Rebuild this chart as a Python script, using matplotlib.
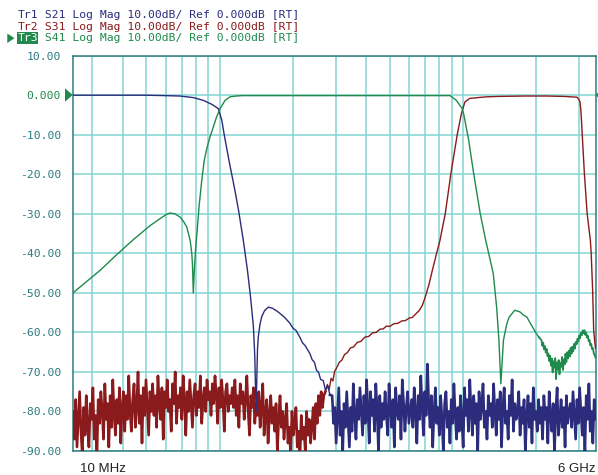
import numpy as np
import matplotlib
matplotlib.use('Agg')
import matplotlib.pyplot as plt
from matplotlib.patches import Polygon
from matplotlib.ticker import NullFormatter

# frequency in MHz, level in dB

# Tr1 S21 (low pass), smooth part
s21_f = [25, 50, 60, 68.8, 78, 85.8, 92.9, 98.9, 102.1, 104.7, 109.6, 114.9, 119.8,
         125, 130, 134, 137.7, 139.5, 141.2, 142.4, 143.2, 144.3, 146.5, 149, 153,
         158.6, 165, 172, 177, 185, 194.6, 200, 206, 213.6, 219, 225, 235.1, 240,
         245, 250.2, 255, 260, 266.7, 272, 278, 284]
s21_db = [0.0, 0.0, -0.1, -0.2, -0.6, -1.3, -2.3, -3.4, -6.3, -10.3, -16.9, -23.2, -29.3,
          -36.5, -44.0, -51.0, -58.5, -66.0, -80.0, -70.0, -64.0, -61.0, -58.0, -56.0, -54.5,
          -53.6, -53.9, -54.6, -55.2, -56.2, -57.7, -58.9, -59.5, -61.2, -62.6, -63.4, -65.4, -66.9,
          -67.5, -69.6, -70.1, -71.9, -72.2, -74.6, -73.5, -75.8]
# Tr1 noise floor, 290 MHz .. 3.5 GHz
s21_noise = [
    -76, -83, -79, -88, -81, -74, -86, -80, -90, -78, -84, -75, -82, -89, -79, -85, -73, -81, -87, -77,
    -82, -74, -80, -86, -76, -83, -72, -79, -88, -75, -81, -77, -85, -73, -80, -90, -76, -84, -78, -82,
    -75, -81, -86, -73, -79, -84, -77, -89, -74, -80, -82, -76, -87, -72, -78, -85, -79, -75, -83, -80,
    -77, -84, -74, -80, -88, -76, -82, -71, -79, -86, -75, -81, -68, -78, -84, -76, -89, -80, -74, -83,
    -79, -86, -76, -82, -90, -78, -75, -84, -80, -88, -77, -83, -73, -81, -87, -79, -85, -76, -82, -89,
    -74, -81, -77, -85, -72, -80, -86, -76, -83, -78, -90, -75, -82, -79, -73, -84, -80, -87, -76, -81,
    -78, -84, -73, -80, -86, -77, -82, -75, -89, -79, -74, -83, -80, -87, -76, -81, -72, -85, -78, -82,
    -80, -75, -86, -79, -83, -77, -90, -81, -76, -84, -78, -88, -74, -82, -80, -85, -77, -83, -79, -87,
    -76, -82, -79, -88, -75, -81, -85, -78, -90, -80, -74, -86, -82, -77, -84, -79, -89, -76, -83, -80,
    -78, -84, -75, -81, -87, -77, -83, -74, -80, -86, -79, -90, -76, -82, -73, -85, -80, -88, -77, -82]

# Tr2 S31 (high pass) noise floor, 25 .. 268 MHz
s31_noise = [
    -80, -87, -77, -89, -82, -75, -85, -91, -79, -86, -76, -84, -89, -78, -82, -74, -87, -81, -92, -77,
    -83, -75, -80, -87, -73, -82, -78, -89, -76, -84, -72, -81, -86, -77, -83, -74, -88, -79, -75, -85,
    -76, -82, -71, -80, -85, -77, -73, -84, -79, -70, -83, -76, -88, -74, -81, -72, -79, -86, -75, -80,
    -73, -81, -76, -84, -71, -78, -82, -74, -87, -75, -79, -72, -80, -77, -85, -73, -78, -70, -83, -76,
    -79, -74, -82, -71, -77, -86, -75, -80, -72, -78, -84, -76, -73, -81, -75, -79, -71, -83, -77, -74,
    -80, -72, -77, -75, -81, -73, -78, -71, -76, -83, -74, -79, -72, -77, -85, -75, -73, -80, -76, -78,
    -74, -79, -72, -81, -76, -84, -73, -78, -75, -82, -77, -71, -80, -86, -76, -79, -74, -83, -78, -81,
    -75, -84, -79, -73, -86, -80, -77, -88, -81, -76, -83, -79, -85, -78, -90, -82, -76, -84, -80, -87,
    -82, -78, -88, -84, -91, -80, -86, -83, -79, -89, -85, -92, -81, -87, -84, -90, -80, -86, -82, -88,
    -84, -79, -87, -78, -83, -76, -81, -75, -79, -76]
# Tr2 smooth part
s31_f = [272, 277, 282, 287, 292, 297, 303, 310, 318, 326, 335, 345, 355, 368, 380, 395,
         410, 425, 440, 455, 470, 485, 500, 520, 540, 560, 580, 600, 620, 640, 660, 680,
         700, 725, 750, 775, 804, 845, 892, 947, 985, 1018, 1066, 1150, 1251, 1400, 1800,
         2200, 2600, 2940, 3000, 3022, 3045, 3065, 3100, 3150, 3235, 3334, 3360, 3407,
         3440, 3470, 3500]
s31_db = [-75.0, -73.2, -74.4, -71.6, -72.3, -69.8, -68.9, -67.6, -67.0, -65.6, -65.1, -63.9,
          -63.7, -62.5, -62.3, -61.2, -61.0, -60.1, -60.0, -59.2, -59.1, -58.4, -58.5, -57.8,
          -57.7, -57.1, -57.0, -56.4, -56.2, -55.3, -54.5, -53.2, -51.0, -47.8, -44.0, -40.5,
          -36.7, -30.0, -19.7, -9.9, -4.6, -1.7, -0.8, -0.6, -0.4, -0.3, -0.2, -0.2, -0.3,
          -0.5, -1.2, -1.7, -3.5, -6.3, -12.0, -19.7, -30.0, -36.7, -40.0, -49.4, -59.5,
          -62.0, -64.0]

# Tr3 S41 (band pass), smooth part
s41_f = [25, 32.3, 38, 44.1, 51.8, 57, 60.7, 62.6, 65.5, 68.8, 71.2, 73.3, 75.7, 76.9,
         77.4, 78.0, 78.8, 79.7, 80.6, 82.4, 84.5, 86.5, 88.6, 91.4, 94.3, 97.2, 100.5,
         105.3, 110.4, 116.9, 124, 885, 939, 990, 1005, 1055, 1105, 1177, 1239, 1330,
         1374, 1404, 1430, 1465, 1513, 1545, 1577, 1630, 1670, 1712, 1770, 1828, 1903,
         2000, 2050]
s41_db = [-50.0, -44.3, -40.2, -36.6, -33.0, -31.2, -30.1, -29.8, -30.0, -30.8, -32.0, -33.3,
          -36.7, -40.0, -43.0, -50.0, -44.0, -39.0, -35.5, -28.0, -21.5, -16.5, -13.5, -10.5,
          -8.0, -5.5, -3.4, -1.3, -0.4, -0.2, -0.1, -0.1, -1.3, -3.3, -4.6, -11.4, -19.7,
          -30.0, -36.7, -45.0, -53.6, -62.0, -73.0, -62.0, -57.8, -56.2, -55.5, -54.4, -54.6,
          -54.8, -55.6, -56.1, -58.0, -60.3, -61.2]
# Tr3 noisy tail, 2.1 .. 3.5 GHz
s41_noise = [
    -62.0, -63.4, -62.6, -64.3, -63.5, -65.1, -64.2, -66.0, -65.3, -67.2, -65.9, -68.4, -66.6,
    -70.1, -67.3, -68.9, -66.5, -71.8, -67.6, -69.4, -67.0, -70.6, -67.8, -68.7, -66.2, -69.5,
    -66.8, -68.1, -65.4, -67.5, -65.0, -66.6, -64.6, -66.1, -63.9, -65.4, -63.6, -64.8, -62.9,
    -64.1, -62.4, -63.0, -61.6, -62.3, -60.8, -61.5, -60.1, -60.7, -59.5, -60.2, -59.4, -60.6,
    -60.0, -61.3, -60.8, -62.2, -61.9, -63.3, -62.9, -64.2, -64.0, -65.3, -65.7, -66.4]

db_ticks = [10, 0, -10, -20, -30, -40, -50, -60, -70, -80, -90]
db_labels = ['10.00', '0.000', '-10.00', '-20.00', '-30.00', '-40.00',
             '-50.00', '-60.00', '-70.00', '-80.00', '-90.00']
freq_labels = ['10 MHz', '6 GHz']

tr_names = ['Tr1', 'Tr2', 'Tr3']
tr_text = [' S21 Log Mag 10.00dB/ Ref 0.000dB [RT]',
           ' S31 Log Mag 10.00dB/ Ref 0.000dB [RT]',
           ' S41 Log Mag 10.00dB/ Ref 0.000dB [RT]']

blue = '#2b2c7c'
red = '#8a1a1c'
green = '#1f8a4c'
gridc = '#84d5d2'
teal = '#2d7b80'

# sweep points of the noisy segments (log sweep)
n21_f = np.geomspace(290, 3500, len(s21_noise))
n31_f = np.geomspace(25, 268, len(s31_noise))
n41_f = np.geomspace(2100, 3500, len(s41_noise))

W, H = 598, 475
fig = plt.figure(figsize=(W / 100, H / 100), dpi=100)
ax = fig.add_axes([73 / W, 24 / H, 522.5 / W, 395.3 / H])
ax.set_xscale('log')
ax.set_xlim(25, 3500)
ax.set_ylim(-90, 10)

# Tr2
ax.plot(np.r_[n31_f, s31_f[0]], np.r_[s31_noise, s31_db[0]], color=red, lw=1.9, zorder=3)
ax.plot(s31_f, s31_db, color=red, lw=1.0, zorder=3)
# Tr1
ax.plot(s21_f, s21_db, color=blue, lw=1.0, zorder=4)
ax.plot(np.r_[s21_f[-1], n21_f], np.r_[s21_db[-1], s21_noise], color=blue, lw=1.9, zorder=4)
# Tr3
ax.plot(s41_f, s41_db, color=green, lw=1.0, zorder=5)
ax.plot(np.r_[s41_f[-1], n41_f], np.r_[s41_db[-1], s41_noise], color=green, lw=1.3, zorder=5)

ax.set_axisbelow(True)
ax.grid(which='both', axis='x', color=gridc, lw=1.1)
ax.grid(which='major', axis='y', color=gridc, lw=1.1)
ax.xaxis.set_major_formatter(NullFormatter())
ax.xaxis.set_minor_formatter(NullFormatter())
ax.tick_params(which='both', length=0)
ax.set_yticks(db_ticks)
ax.set_yticklabels(db_labels, family='DejaVu Sans Mono', fontsize=8.2)
ax.tick_params(axis='y', pad=8.6)
for lab in ax.get_yticklabels():
    lab.set_color(green if lab.get_text() == '0.000' else teal)
for s in ax.spines.values():
    s.set_color(teal)
    s.set_linewidth(1.1)

# frequency end labels
fig.text(80 / W, 1 - 469 / H, freq_labels[0], ha='left', va='center',
         family='Liberation Sans', fontsize=9.5, color='#231f20')
fig.text(596 / W, 1 - 469 / H, freq_labels[1], ha='right', va='center',
         family='Liberation Sans', fontsize=9.5, color='#231f20')

# reference markers
fig.patches.append(Polygon([(65 / W, 1 - 88.3 / H), (65 / W, 1 - 101.7 / H), (72.7 / W, 1 - 95 / H)],
                           closed=True, fc=green, ec='none', transform=fig.transFigure))
fig.patches.append(Polygon([(595.6 / W, 1 - 95 / H), (598.5 / W, 1 - 92 / H), (598.5 / W, 1 - 98 / H)],
                           closed=True, fc=green, ec='none', transform=fig.transFigure))

# trace header
cols = [blue, red, green]
ys = [15.5, 26.7, 38.0]
cw = 6.87
for i in range(3):
    if i == 2:
        fig.text(17.3 / W, 1 - ys[i] / H, tr_names[i], ha='left', va='center',
                 family='DejaVu Sans Mono', fontsize=8.2, color='white',
                 bbox=dict(boxstyle='square,pad=0.05', fc=cols[i], ec='none'))
        fig.patches.append(Polygon([(7.3 / W, 1 - 33.5 / H), (7.3 / W, 1 - 43 / H), (14.5 / W, 1 - 38.2 / H)],
                                   closed=True, fc=cols[i], ec='none', transform=fig.transFigure))
    else:
        fig.text(17.3 / W, 1 - ys[i] / H, tr_names[i], ha='left', va='center',
                 family='DejaVu Sans Mono', fontsize=8.2, color=cols[i])
    fig.text((17.3 + 3 * cw) / W, 1 - ys[i] / H, tr_text[i], ha='left', va='center',
             family='DejaVu Sans Mono', fontsize=8.2, color=cols[i])

fig.savefig('out.png', dpi=100)
